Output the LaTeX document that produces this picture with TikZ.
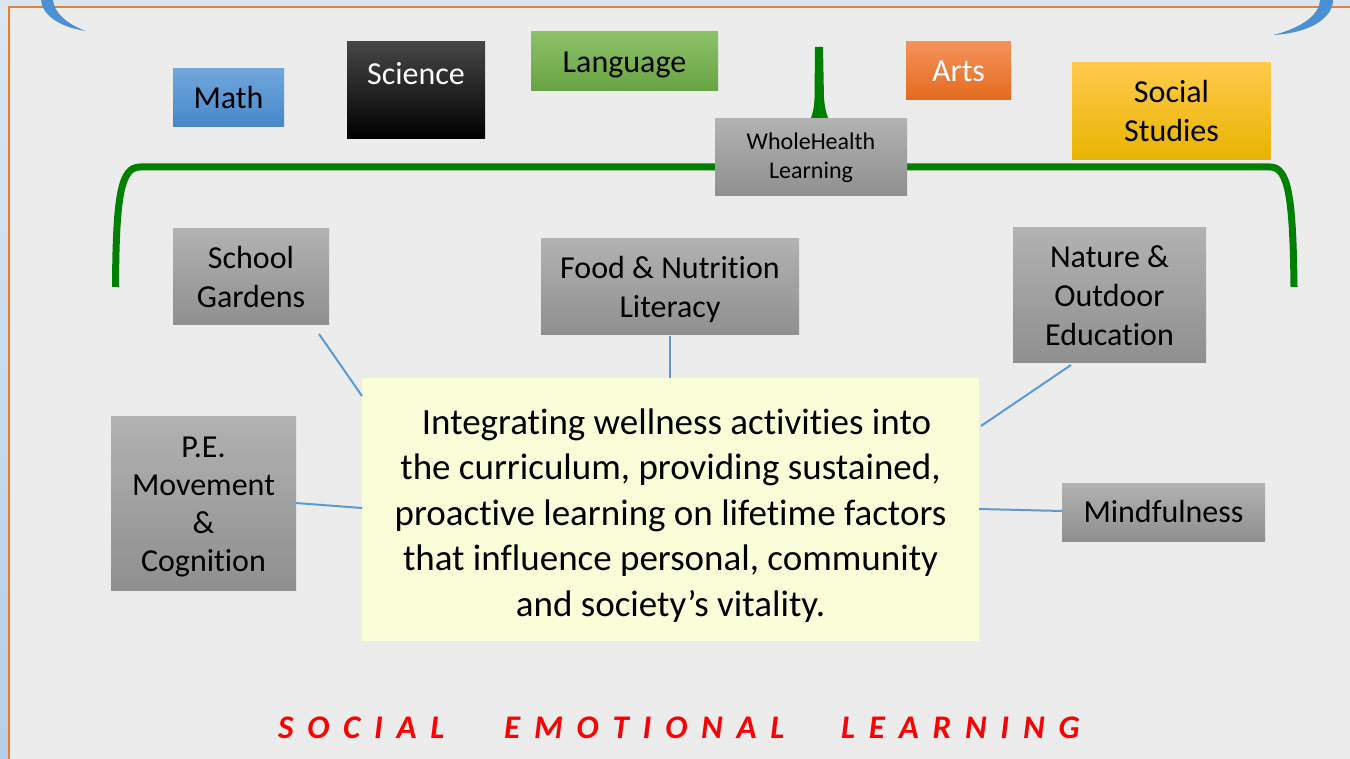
\documentclass[tikz,border=0pt]{standalone}
\usepackage{fontspec}
\setmainfont{Carlito}[Ligatures=NoCommon]
\usetikzlibrary{calc}
\definecolor{outerT}{RGB}{218,231,243}
\definecolor{outerB}{RGB}{178,207,235}
\definecolor{innergray}{RGB}{236,236,236}
\definecolor{frameorange}{RGB}{237,125,49}
\definecolor{arcblue}{RGB}{74,144,210}
\definecolor{bracegreen}{RGB}{0,128,0}
\definecolor{connblue}{RGB}{91,155,213}
\definecolor{gboxT}{RGB}{178,178,178}
\definecolor{gboxB}{RGB}{143,143,143}
\definecolor{mathT}{RGB}{112,167,221}
\definecolor{mathB}{RGB}{70,135,200}
\definecolor{sciT}{RGB}{70,70,70}
\definecolor{sciB}{RGB}{0,0,0}
\definecolor{langT}{RGB}{140,193,104}
\definecolor{langB}{RGB}{104,164,66}
\definecolor{artsT}{RGB}{244,146,90}
\definecolor{artsB}{RGB}{230,106,30}
\definecolor{socT}{RGB}{255,202,76}
\definecolor{socB}{RGB}{232,180,0}
\definecolor{centfill}{RGB}{249,253,216}
\definecolor{selred}{RGB}{255,0,0}
\begin{document}
\begin{tikzpicture}[x=1pt,y=-1pt,
  box/.style={rectangle, inner sep=0pt, align=center, text=black,
    font=\fontsize{32}{39}\selectfont},
  graybox/.style={box, top color=gboxT, bottom color=gboxB},
  txt/.style={box, anchor=center},
  conn/.style={draw=connblue, line width=2pt},
  selword/.style={anchor=base west, inner sep=0pt, text=selred,
    font=\fontsize{33}{40}\selectfont\bfseries\itshape}]
\newcommand\hs{\hspace{13.8pt}}
\useasboundingbox (0,0) rectangle (1350,759);
% background
\shade[top color=outerT, bottom color=outerB] (0,0) rectangle (1350,759);
\fill[innergray] (9,7) rectangle (1350,759);
\draw[frameorange, line width=2pt] (9,759) -- (9,7) -- (1350,7);
% blue arcs
\fill[arcblue] (41,0) .. controls (42,14) and (58,27) .. (86,31)
  .. controls (66,24) and (54,12) .. (53,0) -- cycle;
\fill[arcblue] (1333,0) .. controls (1333,18) and (1310,33) .. (1273,35)
  .. controls (1302,28) and (1320,14) .. (1320,0) -- cycle;
% green brace
\draw[bracegreen, line width=7pt] (115.5,287) .. controls (116,195) and (121,167) .. (140,167)
  -- (1270,167) .. controls (1288,167) and (1293,195) .. (1294,287);
\fill[bracegreen] (815,47) -- (823,47) -- (824,98) .. controls (825,110) and (827,116) .. (829,120)
  -- (810,120) .. controls (812,116) and (814,110) .. (814.5,98) -- cycle;
% top category nodes
\node[box, top color=mathT, bottom color=mathB, minimum width=111pt, minimum height=58pt] (math) at (228.5,98) {Math};
\node[box, top color=sciT, bottom color=sciB, minimum width=138pt, minimum height=97pt] (sci) at (416,90.5) {};
\node[txt, text=white] (scitxt) at (416,74) {Science};
\node[box, top color=langT, bottom color=langB, minimum width=187pt, minimum height=59pt] (lang) at (624.5,61.5) {};
\node[txt] (langtxt) at ($(lang.center)+(0,3)$) {Language};
\node[box, top color=artsT, bottom color=artsB, text=white, minimum width=105pt, minimum height=58pt] (arts) at (958.5,71) {Arts};
\node[box, top color=socT, bottom color=socB, minimum width=199pt, minimum height=97pt] (soc) at (1171.5,111) {Social\\Studies};
\node[graybox, font=\fontsize{24}{29}\selectfont, minimum width=192pt, minimum height=77pt] (whl) at (811,157.5) {WholeHealth\\Learning};
% activity nodes
\node[graybox, minimum width=156pt, minimum height=96pt] (sg) at (251,277) {School\\Gardens};
\node[graybox, minimum width=258pt, minimum height=96pt] (food) at (670,287) {};
\node[txt] (foodtxt) at ($(food.center)+(0,2.5)$) {Food \& Nutrition\\Literacy};
\node[graybox, minimum width=193pt, minimum height=135pt] (nat) at (1109.5,295.5) {Nature \&\\Outdoor\\Education};
\node[graybox, minimum width=185pt, minimum height=174pt] (pe) at (203.5,503) {};
\node[txt, font=\fontsize{32}{38}\selectfont] (petxt) at ($(pe.center)+(0,4)$) {P.E.\\Movement\\\&\\Cognition};
\node[graybox, minimum width=203pt, minimum height=58pt] (mind) at (1163.5,512) {Mindfulness};
\node[box, fill=centfill, minimum width=617pt, minimum height=263pt] (cen) at (670.5,509.5) {};
\node[txt, font=\fontsize{37}{45.5}\selectfont] (centxt) at ($(cen.center)+(0,6)$)
  {\hspace*{12pt}Integrating wellness activities into\\the curriculum, providing sustained,\\proactive learning on lifetime factors\\that influence personal, community\\and society’s vitality.};
% connectors
\coordinate (sgA) at (319,334); \coordinate (sgB) at (362,396);
\coordinate (foodA) at (670,336); \coordinate (foodB) at (670,378);
\coordinate (natA) at (1071,365); \coordinate (natB) at (981,426);
\coordinate (peA) at (296,503); \coordinate (peB) at (362,508);
\coordinate (mindA) at (979,509); \coordinate (mindB) at (1062,511);
\draw[conn] (sgA) -- (sgB);
\draw[conn] (foodA) -- (foodB);
\draw[conn] (natA) -- (natB);
\draw[conn] (peA) -- (peB);
\draw[conn] (mindA) -- (mindB);
% bottom title
\node[selword] (w1) at (278,738) {S\hs O\hs C\hs I\hs A\hs L};
\node[selword] (w2) at (504,738) {E\hs M\hs O\hs T\hs I\hs O\hs N\hs A\hs L};
\node[selword] (w3) at (841,738) {L\hs E\hs A\hs R\hs N\hs I\hs N\hs G};
\end{tikzpicture}
\end{document}
